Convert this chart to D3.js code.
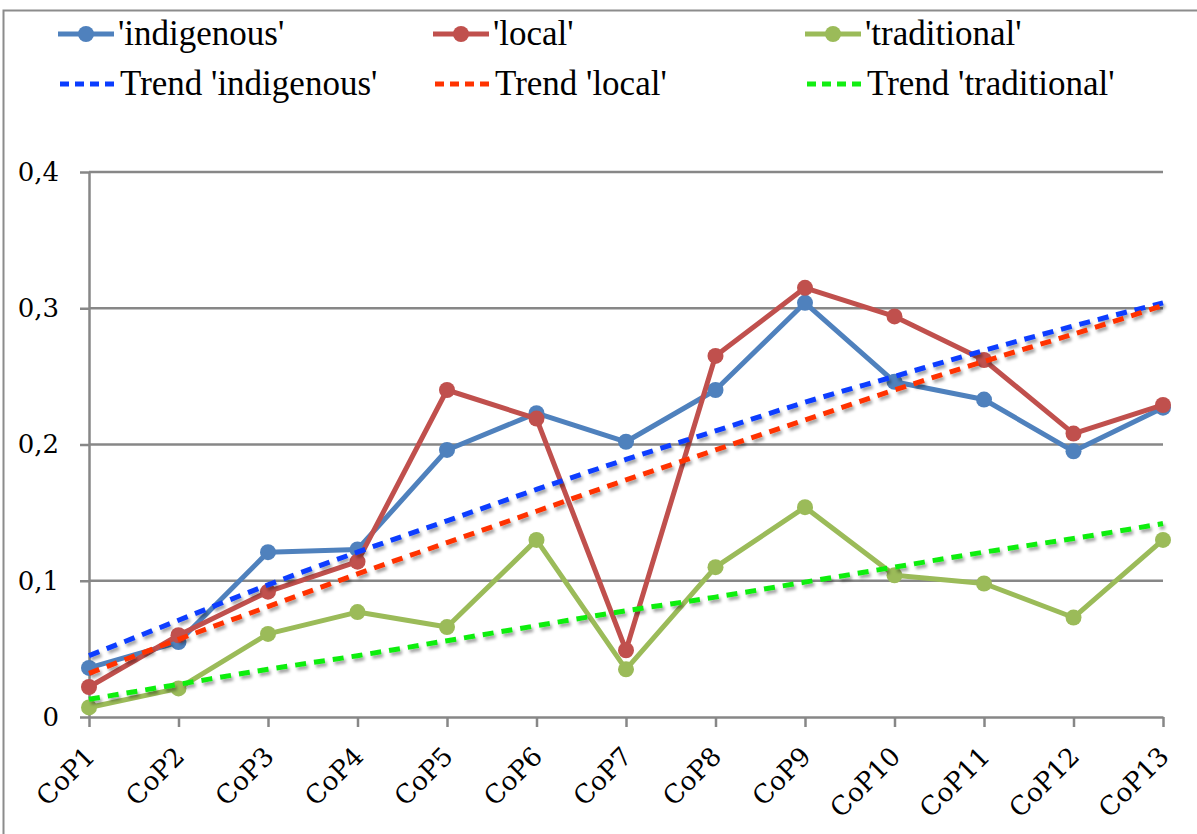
<!DOCTYPE html>
<html>
<head>
<meta charset="utf-8">
<script src="https://cdn.jsdelivr.net/npm/d3@7"></script>
<style>
  body { margin: 0; background: #fff; }
  svg { display: block; }
</style>
</head>
<body>
<div id="chart"></div>
<script>
// values
const categories = ["CoP1", "CoP2", "CoP3", "CoP4", "CoP5", "CoP6", "CoP7",
                    "CoP8", "CoP9", "CoP10", "CoP11", "CoP12", "CoP13"];
const indigenous  = [0.036, 0.055, 0.121, 0.123, 0.196, 0.223, 0.202, 0.240, 0.304, 0.246, 0.233, 0.195, 0.227];
const local       = [0.022, 0.060, 0.092, 0.114, 0.240, 0.219, 0.049, 0.265, 0.315, 0.294, 0.262, 0.208, 0.229];
const traditional = [0.007, 0.021, 0.061, 0.077, 0.066, 0.130, 0.035, 0.110, 0.154, 0.104, 0.098, 0.073, 0.130];

// trend lines, as they sit on each category in the picture
const trendIndigenous  = [0.045, 0.071, 0.097, 0.121, 0.144, 0.167, 0.189, 0.210, 0.231, 0.250, 0.269, 0.287, 0.304];
const trendLocal       = [0.032, 0.057, 0.081, 0.105, 0.128, 0.151, 0.174, 0.196, 0.218, 0.240, 0.261, 0.281, 0.302];
const trendTraditional = [0.013, 0.024, 0.035, 0.045, 0.056, 0.067, 0.078, 0.088, 0.099, 0.110, 0.121, 0.131, 0.142];

const yTicks = [0, 0.1, 0.2, 0.3, 0.4];
const yTickLabels = ["0", "0,1", "0,2", "0,3", "0,4"];

const seriesNames = ["'indigenous'", "'local'", "'traditional'"];
const trendNames = ["Trend 'indigenous'", "Trend 'local'", "Trend 'traditional'"];

// set the dimensions
const width = 1197;
const height = 834;
const plotLeft = 89, plotRight = 1163, plotTop = 172, plotBottom = 717;

const svg = d3.select("#chart")
  .append("svg")
    .attr("width", width)
    .attr("height", height);

// drop shadow for the trend lines
const defs = svg.append("defs");
const shadow = defs.append("filter")
    .attr("id", "shadow")
    .attr("x", "-5%").attr("y", "-5%")
    .attr("width", "110%").attr("height", "110%");
shadow.append("feDropShadow")
    .attr("dx", 2).attr("dy", 3)
    .attr("stdDeviation", 1.5)
    .attr("flood-color", "#000")
    .attr("flood-opacity", 0.35);

// outer frame of the chart
svg.append("rect")
    .attr("x", 3.5).attr("y", 10.5)
    .attr("width", width + 20).attr("height", height + 20)
    .attr("fill", "none")
    .attr("stroke", "#8c8c8c")
    .attr("stroke-width", 2);

// scales
const x = d3.scalePoint()
  .domain(categories)
  .range([plotLeft, plotRight]);

const y = d3.scaleLinear()
  .domain([0, 0.4])
  .range([plotBottom, plotTop]);

const axisColor = "#878787";

// gridlines
svg.append("g")
  .selectAll("line")
  .data(yTicks.filter(d => d > 0))
  .join("line")
    .attr("x1", plotLeft)
    .attr("x2", plotRight)
    .attr("y1", d => y(d))
    .attr("y2", d => y(d))
    .attr("stroke", axisColor)
    .attr("stroke-width", 2.5);

// y axis
const yAxis = svg.append("g")
    .attr("transform", `translate(${plotLeft},0)`)
    .call(d3.axisLeft(y)
      .tickValues(yTicks)
      .tickFormat((d, i) => yTickLabels[i])
      .tickSize(9)
      .tickSizeOuter(0)
      .tickPadding(21));

// x axis
const xAxis = svg.append("g")
    .attr("transform", `translate(0,${plotBottom})`)
    .call(d3.axisBottom(x)
      .tickSize(10)
      .tickSizeOuter(0));

[yAxis, xAxis].forEach(a => {
  a.select(".domain").attr("stroke", axisColor).attr("stroke-width", 2.5);
  a.selectAll(".tick line").attr("stroke", axisColor).attr("stroke-width", 2.5);
});

yAxis.selectAll("text")
    .attr("font-family", "DejaVu Serif")
    .attr("font-size", 26)
    .attr("fill", "#000");

xAxis.selectAll("text")
    .attr("font-family", "DejaVu Serif")
    .attr("font-size", 26)
    .attr("fill", "#000")
    .attr("text-anchor", "end")
    .attr("dy", 0)
    .attr("y", 0)
    .attr("transform", "translate(7,41) rotate(-45)");

// series lines with markers
const series = [
  { name: seriesNames[0], values: indigenous,  color: "#4F81BD" },
  { name: seriesNames[1], values: local,       color: "#C0504D" },
  { name: seriesNames[2], values: traditional, color: "#9BBB59" }
];

const trends = [
  { name: trendNames[0], values: trendIndigenous,  color: "#0A3CFF" },
  { name: trendNames[1], values: trendLocal,       color: "#FF3300" },
  { name: trendNames[2], values: trendTraditional, color: "#11EE11" }
];

const line = d3.line()
  .x((d, i) => x(categories[i]))
  .y(d => y(d));

series.forEach(s => {
  const g = svg.append("g");
  g.append("path")
      .datum(s.values)
      .attr("d", line)
      .attr("fill", "none")
      .attr("stroke", s.color)
      .attr("stroke-width", 5)
      .attr("stroke-linejoin", "round");
  g.selectAll("circle")
    .data(s.values)
    .join("circle")
      .attr("cx", (d, i) => x(categories[i]))
      .attr("cy", d => y(d))
      .attr("r", 8)
      .attr("fill", s.color);
});

// trend lines
const trendLine = d3.line()
  .x((d, i) => x(categories[i]))
  .y(d => y(d))
  .curve(d3.curveMonotoneX);

trends.forEach(t => {
  svg.append("path")
      .datum(t.values)
      .attr("d", trendLine)
      .attr("fill", "none")
      .attr("stroke", t.color)
      .attr("stroke-width", 5)
      .attr("stroke-dasharray", "11 8")
      .attr("filter", "url(#shadow)");
});

// legend
const legendCols = [58, 433, 805];
const legendRows = [34, 84];

const legend = svg.append("g")
    .attr("font-family", "Liberation Serif")
    .attr("font-size", 35);

series.forEach((s, i) => {
  const g = legend.append("g")
      .attr("transform", `translate(${legendCols[i]},${legendRows[0]})`);
  g.append("line")
      .attr("x1", 0).attr("x2", 56)
      .attr("stroke", s.color)
      .attr("stroke-width", 5);
  g.append("circle")
      .attr("cx", 28)
      .attr("r", 8)
      .attr("fill", s.color);
  g.append("text")
      .attr("x", 60)
      .attr("dy", "0.32em")
      .text(s.name);
});

trends.forEach((t, i) => {
  const g = legend.append("g")
      .attr("transform", `translate(${legendCols[i]},${legendRows[1]})`);
  g.append("line")
      .attr("x1", 2).attr("x2", 58)
      .attr("stroke", t.color)
      .attr("stroke-width", 5)
      .attr("stroke-dasharray", "9 6");
  g.append("text")
      .attr("x", 62)
      .attr("dy", "0.32em")
      .text(t.name);
});
</script>
</body>
</html>
